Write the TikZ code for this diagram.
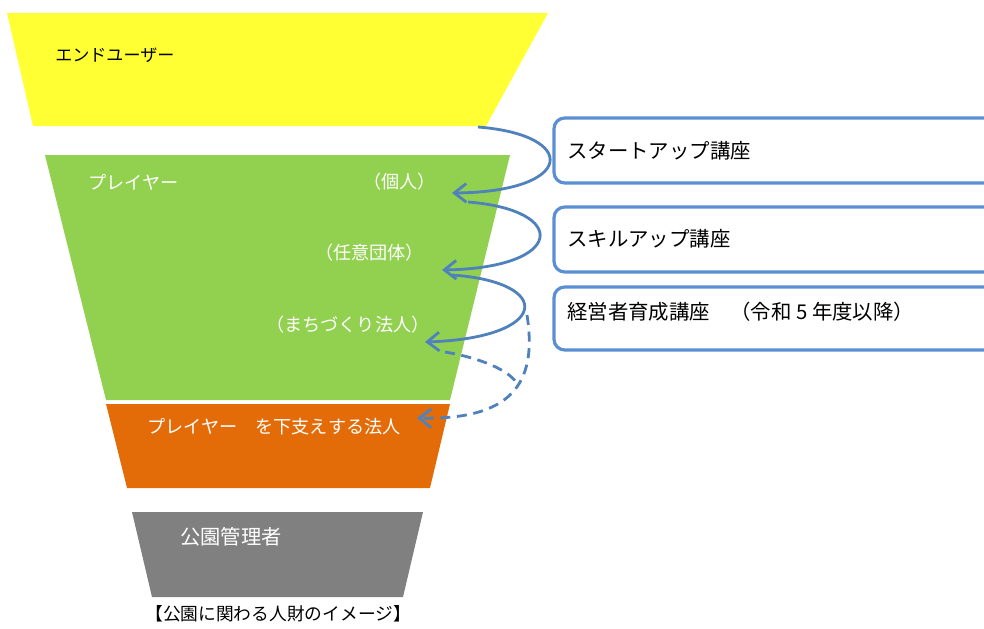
\documentclass[tikz,border=0pt]{standalone}
\usepackage{fontspec}
\setmainfont{Noto Sans CJK JP}
\usetikzlibrary{arrows.meta}
\definecolor{cyellow}{HTML}{FFFF33}
\definecolor{cgreen}{HTML}{92D050}
\definecolor{corange}{HTML}{E36C09}
\definecolor{cgray}{HTML}{808080}
\definecolor{cblue}{HTML}{4F81BD}
\definecolor{cbox}{HTML}{5B8FD3}
\tikzset{
  lbl/.style={anchor=west, inner sep=0pt, font=\fontsize{12.8pt}{14pt}\selectfont},
  wlbl/.style={anchor=west, inner sep=0pt, text=white, font=\fontsize{13.6pt}{15pt}\selectfont},
  boxtxt/.style={anchor=west, inner sep=0pt, font=\fontsize{15.3pt}{17pt}\selectfont},
  coursebox/.style={draw=cbox, line width=2.4pt, rounded corners=8pt, fill=white},
  flow/.style={draw=cblue, line width=2.1pt, -{Straight Barb[length=9pt,width=14pt,line width=2.1pt]}},
  dflow/.style={flow, dash pattern=on 7.5pt off 5pt},
}
\begin{document}
\begin{tikzpicture}[x=0.75pt,y=-0.75pt]
\clip (0,0) rectangle (984,628);
\fill[white] (0,0) rectangle (984,628);
% funnel layers
\fill[cyellow] (7,13) -- (548,13) -- (486,126) -- (33,126) -- cycle;
\fill[cgreen] (45,155) -- (510,155) -- (450,400) -- (106,400) -- cycle;
\fill[corange] (106,404) -- (450,404) -- (430,488) -- (127,488) -- cycle;
\fill[cgray] (132,512) -- (423,512) -- (403,597) -- (152,597) -- cycle;
% layer labels
\node[lbl] (eu) at (55,55) {エンドユーザー};
\node[wlbl] (pl) at (88,182) {プレイヤー};
\node[wlbl] (kojin) at (363,182) {（個人）};
\node[wlbl] (nini) at (315,253) {（任意団体）};
\node[wlbl] (machi) at (266,325) {（まちづくり法人）};
\node[wlbl] (sasa) at (147,427) {プレイヤー　を下支えする法人};
\node[wlbl, font=\fontsize{15.2pt}{17pt}\selectfont] (kanri) at (180,537) {公園管理者};
\node[lbl, font=\fontsize{13.3pt}{15pt}\selectfont] (cap) at (145,614) {【公園に関わる人財のイメージ】};
% course boxes
\draw[coursebox] (554,118) rectangle (1010,183);
\draw[coursebox] (554,207) rectangle (1010,272);
\draw[coursebox] (554,287) rectangle (1010,350);
\node[boxtxt] (b1) at (567,151) {スタートアップ講座};
\node[boxtxt] (b2) at (567,239) {スキルアップ講座};
\node[boxtxt] (b3) at (567,312) {経営者育成講座　（令和 5 年度以降）};
% connectors
\coordinate (s1) at (478,127);
\coordinate (t1) at (452,193);
\coordinate (s2) at (468,202);
\coordinate (t2) at (442,270);
\coordinate (s3) at (452,275);
\coordinate (t3) at (425,342);
\coordinate (s4) at (527,315);
\coordinate (t4) at (417,418);
\coordinate (s5) at (445,352);
\coordinate (m5) at (518,385);
\draw[flow] (s1) .. controls (580,135) and (575,192) .. (t1);
\draw[flow] (s2) .. controls (570,210) and (565,268) .. (t2);
\draw[flow] (s3) .. controls (555,282) and (550,338) .. (t3);
\draw[dflow] (s4) .. controls (538,385) and (510,420) .. (t4);
\draw[draw=cblue, line width=2.1pt, dash pattern=on 7.5pt off 5pt] (s5) .. controls (480,358) and (510,370) .. (m5);
\end{tikzpicture}
\end{document}
